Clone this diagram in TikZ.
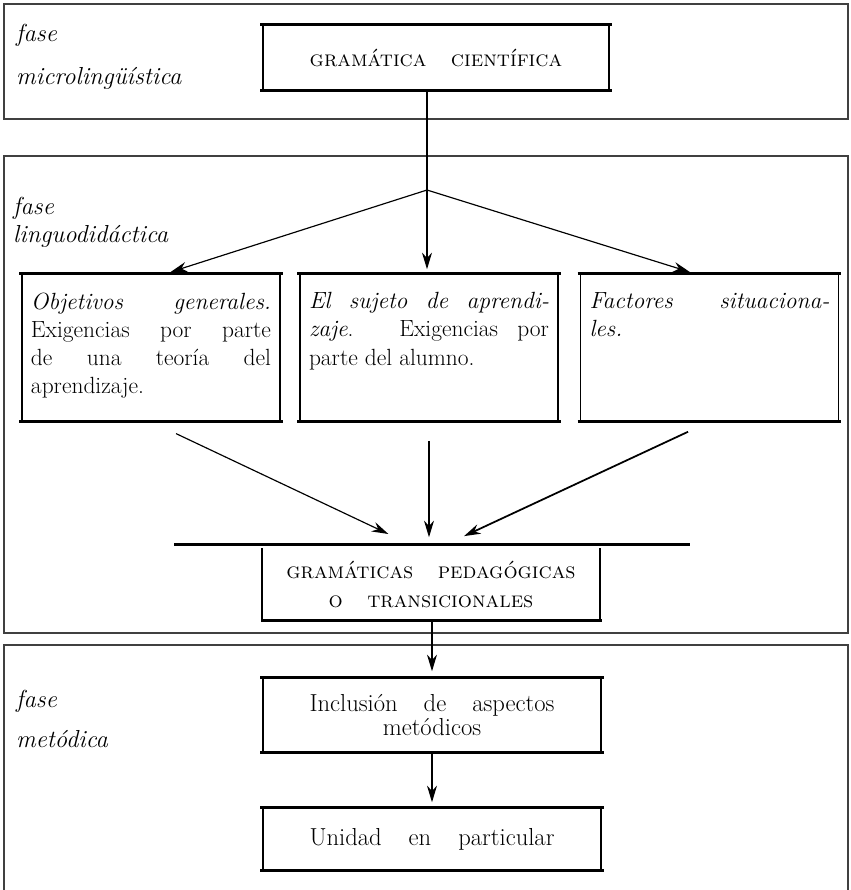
\documentclass[tikz,border=0pt]{standalone}
\usepackage{fontspec}
\usepackage{xcolor}
\usepackage{tikz}
\usetikzlibrary{arrows.meta, calc}

\newcommand{\jline}[1]{\makebox[\linewidth][s]{#1}}
\newcommand{\topbox}[1]{\parbox[c][33mm][t]{72mm}{#1}}

\begin{document}
\begin{tikzpicture}[x=0.3mm, y=-0.3mm]
    % Define styles
    \tikzstyle{panel} = [draw=black!75, line width=1.1pt]
    \tikzstyle{fase} = [anchor=west, align=left, inner sep=0pt, font=\fontsize{21}{24}\selectfont\itshape]
    \tikzstyle{caja} = [draw, line width=1.3pt, inner sep=0pt]
    \tikzstyle{titulo} = [caja, minimum width=103.8mm, minimum height=19.5mm, font=\fontsize{19}{25}\selectfont\scshape, align=center]
    \tikzstyle{factor} = [caja, minimum width=77.4mm, minimum height=44.1mm, font=\fontsize{20}{24}\selectfont]
    \tikzstyle{paso} = [caja, minimum width=101.4mm, font=\fontsize{21}{21}\selectfont, align=center]
    \tikzstyle{regla} = [line width=2.3pt]
    \tikzstyle{flecha} = [-{Stealth[length=5mm, width=3mm]}, line width=1pt, shorten >=1.2mm]

    \useasboundingbox (0,0) rectangle (851,890);

    % Panels
    \draw[panel] (4,4) rectangle (848,119);
    \draw[panel] (4,156) rectangle (848,633);
    \draw[panel] (4,890) -- (4,645) -- (848,645) -- (848,890);

    % fase microlinguistica
    \node[fase] (fmicro) at (16,57) {fase\\[13pt]microlingüística};
    \node[titulo] (cient) at (436,57.5) {gramática\hspace{1.1em}científica};

    % fase linguodidactica
    \node[fase] (fling) at (13,222) {fase\\linguodidáctica};
    \coordinate (split) at (427,190);
    \node[factor] (obj) at (151,347.5) {\topbox{\jline{\textit{Objetivos generales.}}\\
        \jline{Exigencias por parte}\\ \jline{de una teoría del}\\ aprendizaje.}};
    \node[factor] (suj) at (429,347.5) {\topbox{\jline{\textit{El sujeto de aprendi-}}\\
        \jline{\textit{zaje}. Exigencias por}\\ parte del alumno.}};
    \node[factor] (sit) at (709.5,347.5) {\topbox{\jline{\textit{Factores situaciona-}}\\
        \textit{les.}}};
    \node[titulo, draw=none, minimum width=100.8mm, minimum height=21.3mm] (ped) at (431,584.5)
        {gramáticas\hspace{1.1em}pedagógicas\\o\hspace{1.1em}transicionales};

    % fase metodica
    \node[fase] (fmet) at (16,719) {fase\\[10pt]metódica};
    \node[paso, minimum height=22.2mm] (incl) at (432,715) {\makebox[73.5mm][s]{Inclusión de aspectos}\\metódicos};
    \node[paso, minimum height=18.6mm] (unid) at (432,839) {\makebox[73.5mm][s]{Unidad en particular}};

    % heavy rules on the boxes
    \foreach \b in {cient, obj, suj, sit, incl, unid} {
        \draw[regla] ([xshift=-0.6mm]\b.north west) -- ([xshift=0.6mm]\b.north east);
        \draw[regla] ([xshift=-0.6mm]\b.south west) -- ([xshift=0.6mm]\b.south east);
    }
    \draw[regla] ([shift={(-26.4mm,1.2mm)}]ped.north west) -- ([shift={(27mm,1.2mm)}]ped.north east);
    \draw[regla] ([xshift=-0.3mm]ped.south west) -- ([xshift=0.6mm]ped.south east);
    \draw[line width=1.3pt] (ped.north west) -- (ped.south west);
    \draw[line width=1.3pt] (ped.north east) -- (ped.south east);

    % Connectors
    \draw[line width=1pt] (split |- cient.south) -- (split);
    \draw[flecha] (split) -- (obj.78);
    \draw[flecha] (split) -- (split |- suj.north);
    \draw[flecha] (split) -- (sit.102);
    \draw[flecha, shorten <=8.3mm, shorten >=10mm] (obj.south) -- (ped.109);
    \draw[flecha, shorten <=5.7mm, shorten >=3.3mm] (suj.south) -- (suj.south |- ped.north);
    \draw[flecha, line width=1.5pt, shorten <=7.1mm, shorten >=8.6mm] (sit.south) -- (ped.79);
    \draw[flecha, shorten >=1.8mm] (incl.north |- ped.south) -- (incl.north);
    \draw[flecha, shorten >=1.5mm] (incl.south) -- (unid.north);
\end{tikzpicture}
\end{document}
